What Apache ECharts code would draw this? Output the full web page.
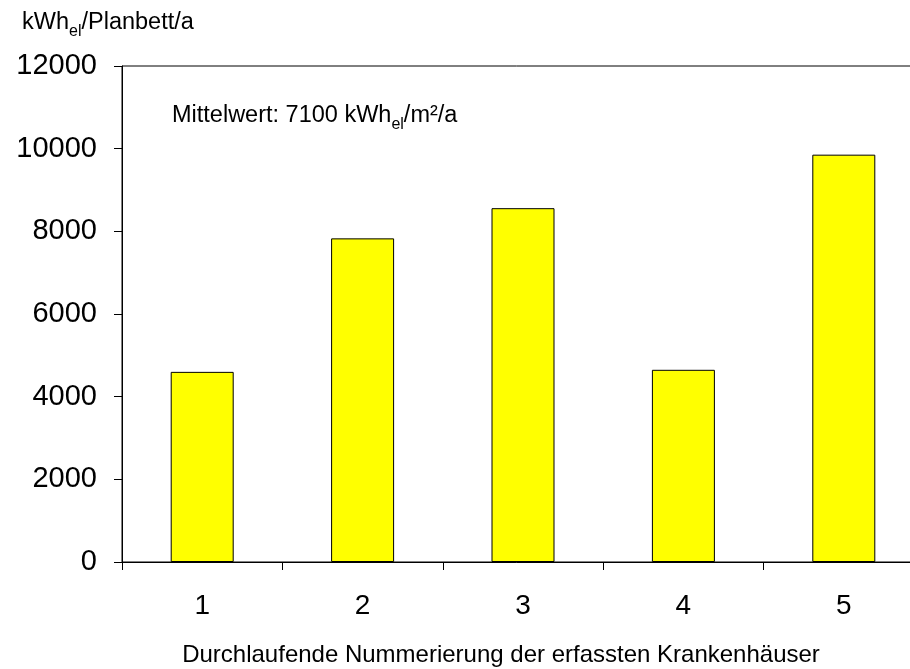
<!DOCTYPE html>
<html>
<head>
<meta charset="utf-8">
<script src="https://cdn.jsdelivr.net/npm/echarts@6/dist/echarts.min.js"></script>
<style>html,body{margin:0;padding:0;background:#fff}#c{width:910px;height:669px}</style>
</head>
<body>
<div id="c"></div>
<script>
const categories = ['1', '2', '3', '4', '5'];
const values = [4600, 7830, 8560, 4650, 9855];
const yTicks = [0, 2000, 4000, 6000, 8000, 10000, 12000];

const FONT = '"Liberation Sans", Arial, sans-serif';
const chart = echarts.init(document.getElementById('c'));
const richStyle = {
  n: { fontSize: 23.5, fontFamily: FONT, fill: '#000', verticalAlign: 'bottom', lineHeight: 28 },
  s: { fontSize: 16, fontFamily: FONT, fill: '#000', verticalAlign: 'bottom', lineHeight: 18, padding: [0, 0, -5, 0] }
};
chart.setOption({
  animation: false,
  backgroundColor: '#fff',
  textStyle: { fontFamily: FONT },
  grid: { left: 122, top: 66, width: 802, height: 496, show: true, borderColor: '#000', borderWidth: 1, outerBoundsMode: 'none', containLabel: false },
  xAxis: {
    type: 'category',
    data: categories,
    axisLine: { lineStyle: { color: '#000', width: 1 } },
    axisTick: { show: true, length: 8, lineStyle: { color: '#000' } },
    axisLabel: { color: '#000', fontSize: 28, fontFamily: FONT, margin: 30 }
  },
  yAxis: {
    type: 'value',
    min: yTicks[0],
    max: yTicks[yTicks.length - 1],
    interval: 2000,
    axisLine: { show: true, lineStyle: { color: '#000', width: 1 } },
    axisTick: { show: true, length: 8, lineStyle: { color: '#000' } },
    axisLabel: { color: '#000', fontSize: 29, fontFamily: FONT, margin: 25, formatter: v => String(v) },
    splitLine: { show: false }
  },
  series: [{
    type: 'bar',
    data: values,
    barWidth: 63,
    itemStyle: { color: '#FFFF00', borderColor: '#000', borderWidth: 1 }
  }],
  graphic: [
    {
      type: 'text', left: 22, top: 11,
      style: { text: '{n|kWh}{s|el}{n|/Planbett/a}', rich: richStyle }
    },
    {
      type: 'text', left: 172, top: 104,
      style: { text: '{n|Mittelwert: 7100 kWh}{s|el}{n|/m²/a}', rich: richStyle }
    },
    {
      type: 'text', x: 501, y: 655,
      style: {
        text: 'Durchlaufende Nummerierung der erfassten Krankenhäuser',
        fontSize: 24, fontFamily: FONT, fill: '#000',
        textAlign: 'center', textVerticalAlign: 'middle'
      }
    }
  ]
});
</script>
</body>
</html>
